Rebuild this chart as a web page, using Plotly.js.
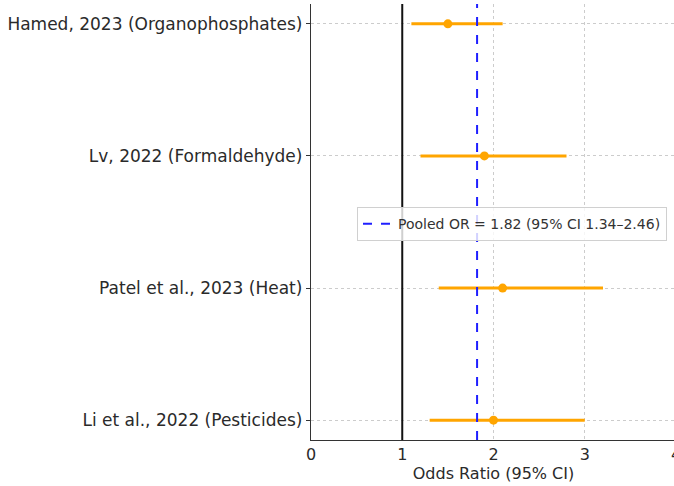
<!DOCTYPE html>
<html><head><meta charset="utf-8">
<script src="https://cdn.plot.ly/plotly-3.0.1.min.js"></script>
<style>html,body{margin:0;padding:0;overflow:hidden;background:#fff}#c{width:678px;height:486px}</style>
</head><body><div id="c"></div>
<script>
const studies = ["Hamed, 2023 (Organophosphates)", "Lv, 2022 (Formaldehyde)", "Patel et al., 2023 (Heat)", "Li et al., 2022 (Pesticides)"];
const orValues = [1.5, 1.9, 2.1, 2.0];
const ciLow = [1.1, 1.2, 1.4, 1.3];
const ciHigh = [2.1, 2.8, 3.2, 3.0];
const rowPos = [3, 2, 1, 0];
const pooledOR = 1.82;
const pooledLabel = "Pooled OR = 1.82 (95% CI 1.34–2.46)";
const xTicks = [0, 1, 2, 3, 4];
const yRange = [-0.15, 3.15];

const font = "DejaVu Sans, sans-serif";
const traces = [
  {
    type: "scatter", mode: "markers",
    x: orValues, y: rowPos,
    marker: {color: "#FFA500", size: 9},
    error_x: {type: "data", symmetric: false,
      array: orValues.map((v, i) => ciHigh[i] - v),
      arrayminus: orValues.map((v, i) => v - ciLow[i]),
      color: "#FFA500", thickness: 3, width: 0},
    showlegend: false, hoverinfo: "x+y"
  },
  {
    type: "scatter", mode: "lines",
    x: [pooledOR, pooledOR], y: yRange,
    line: {color: "#1f1fff", width: 2, dash: "dash"},
    name: pooledLabel, showlegend: true
  }
];
const layout = {
  width: 678, height: 486,
  margin: {l: 311, r: 2, t: 4, b: 46},
  paper_bgcolor: "#fff", plot_bgcolor: "#fff",
  font: {family: font, size: 17, color: "#2a2a2a"},
  xaxis: {range: [0, 4], tickvals: xTicks, ticktext: xTicks.map(String),
    showgrid: true, gridcolor: "#cccccc", griddash: "dot", gridwidth: 1,
    zeroline: false, showline: true, linecolor: "#333", linewidth: 1.2,
    ticks: "", ticklabeloverflow: "allow",
    title: {text: "Odds Ratio (95% CI)", font: {size: 16}, standoff: 2},
    tickfont: {size: 16}},
  yaxis: {range: yRange, tickvals: rowPos, ticktext: studies,
    showgrid: true, gridcolor: "#cccccc", griddash: "dot", gridwidth: 1,
    zeroline: false, showline: true, linecolor: "#333", linewidth: 1.2,
    ticks: "outside", ticklen: 4, tickcolor: "#333", tickfont: {size: 17}},
  shapes: [{type: "line", xref: "x", yref: "paper", x0: 1, x1: 1, y0: 0, y1: 1,
    line: {color: "#111", width: 2}, layer: "above"}],
  legend: {x: 0.126, y: 0.534, xanchor: "left", yanchor: "top",
    bgcolor: "rgba(255,255,255,0.8)", bordercolor: "#d0d0d0", borderwidth: 1,
    font: {size: 14, color: "#333"}},
  showlegend: true
};
Plotly.newPlot("c", traces, layout, {displayModeBar: false, staticPlot: true});
</script></body></html>
